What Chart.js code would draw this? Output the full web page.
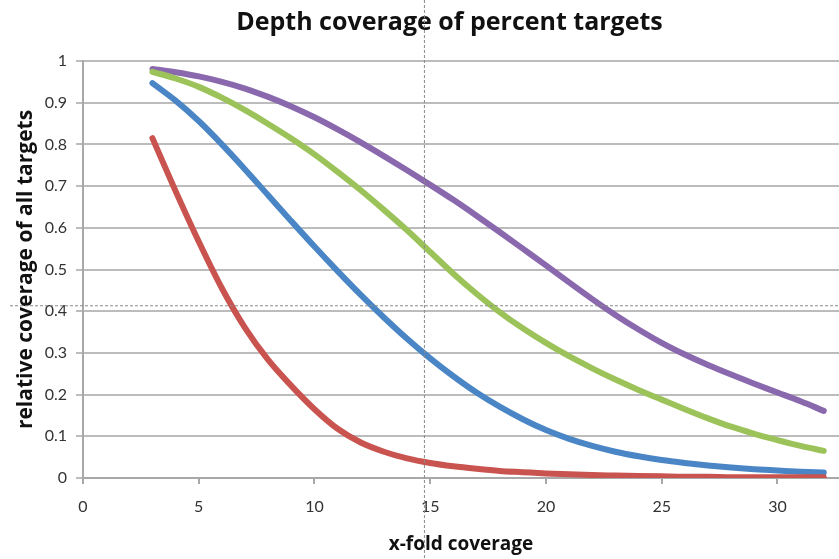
<!DOCTYPE html>
<html>
<head>
<meta charset="utf-8">
<script src="https://cdn.jsdelivr.net/npm/chart.js@4"></script>
<style>
  html, body { margin: 0; padding: 0; background: #fff; }
  #wrap { width: 839px; height: 559px; }
</style>
</head>
<body>
<div id="wrap"><canvas id="chart" width="839" height="559"></canvas></div>
<script>
/* ===== data ===== */
const xFold = [3,4,5,6,7,8,9,10,11,12,13,14,15,16,17,18,19,20,21,22,23,24,25,26,27,28,29,30,31,32];

const redSeries = [0.815,0.688,0.567,0.455,0.36,0.283,0.221,0.165,0.118,0.085,0.063,0.047,0.036,0.028,0.022,
                   0.017,0.014,0.011,0.009,0.007,0.006,0.005,0.004,0.003,0.003,0.002,0.002,0.002,0.002,0.002];
const blueSeries = [0.947,0.905,0.856,0.8,0.74,0.678,0.616,0.555,0.496,0.439,0.385,0.334,0.287,0.244,0.205,
                    0.171,0.141,0.115,0.094,0.077,0.063,0.052,0.043,0.036,0.03,0.025,0.021,0.018,0.015,0.013];
const greenSeries = [0.974,0.958,0.938,0.912,0.882,0.849,0.814,0.776,0.734,0.69,0.643,0.594,0.542,0.49,0.442,
                     0.398,0.359,0.324,0.292,0.263,0.236,0.211,0.188,0.165,0.143,0.123,0.106,0.091,0.077,0.065];
const purpleSeries = [0.981,0.973,0.963,0.95,0.934,0.914,0.891,0.865,0.836,0.805,0.772,0.738,0.703,0.667,0.629,
                      0.59,0.55,0.51,0.469,0.429,0.391,0.356,0.324,0.296,0.271,0.248,0.226,0.205,0.184,0.161];

const xTicks = [0,5,10,15,20,25,30];
const yTicks = [0,0.1,0.2,0.3,0.4,0.5,0.6,0.7,0.8,0.9,1];

// the dotted crosshair seen on the scan, in data units
const crossX = 14.75;
const crossY = 0.413;

/* ===== helpers ===== */
function pts(arr){ return arr.map((v,i)=>({ x: xFold[i], y: v })); }
function line(data, color){
  return { data: pts(data), borderColor: color, backgroundColor: color, borderWidth: 6,
           pointRadius: 0, cubicInterpolationMode: 'monotone', borderCapStyle: 'round',
           borderJoinStyle: 'round', fill: false };
}

const crosshair = {
  id: 'crosshair',
  afterDraw(chart){
    const {ctx} = chart;
    const px = chart.scales.x.getPixelForValue(crossX);
    const py = chart.scales.y.getPixelForValue(crossY);
    ctx.save();
    ctx.strokeStyle = '#8a8a8a';
    ctx.lineWidth = 1;
    ctx.setLineDash([3,2]);
    ctx.beginPath();
    ctx.moveTo(px, 0); ctx.lineTo(px, chart.height);
    ctx.moveTo(10, py); ctx.lineTo(chart.width, py);
    ctx.stroke();
    ctx.restore();
  }
};

const tickFont = { family: 'Lato', size: 16 };

new Chart(document.getElementById('chart'), {
  type: 'line',
  data: { datasets: [
    line(redSeries, '#c9544f'),
    line(blueSeries, '#4a86c5'),
    line(greenSeries, '#9cc35a'),
    line(purpleSeries, '#8a68ad')
  ]},
  options: {
    responsive: false,
    animation: false,
    // title box reaches past the right edge, as in the cropped original
    layout: { padding: { left: 0, right: -60, top: 0, bottom: 0 } },
    plugins: {
      legend: { display: false },
      tooltip: { enabled: false },
      title: {
        display: true,
        text: 'Depth coverage of percent targets',
        color: '#111',
        font: { family: 'Open Sans', size: 25, weight: 'bold' },
        padding: { top: 8, bottom: 23 }
      }
    },
    scales: {
      x: {
        type: 'linear',
        min: 0,
        max: 32.66,
        afterBuildTicks: s => { s.ticks = xTicks.map(v => ({ value: v })); },
        afterFit: s => { s.height = 81; s.paddingLeft = 0; s.paddingRight = 0; },
        ticks: { color: '#333', font: tickFont, padding: 13, maxRotation: 0 },
        grid: { drawOnChartArea: false, drawTicks: true, tickLength: 6, color: '#a8a8a8', lineWidth: 2 },
        border: { color: '#a8a8a8', width: 2 },
        title: {
          display: true, text: 'x-fold coverage', color: '#111',
          font: { family: 'Open Sans', size: 19, weight: 'bold' },
          padding: { top: 0, bottom: 3 }
        }
      },
      y: {
        min: 0,
        max: 1,
        afterBuildTicks: s => { s.ticks = yTicks.map(v => ({ value: v })); },
        afterFit: s => { s.width = 83; },
        ticks: { color: '#333', font: tickFont, padding: 9, callback: v => String(+v.toFixed(1)) },
        grid: { color: '#bcbcbc', lineWidth: 2, tickLength: 7 },
        border: { color: '#a8a8a8', width: 2 },
        title: {
          display: true, text: 'relative coverage of all targets', color: '#111',
          font: { family: 'Open Sans', size: 21, weight: 'bold' },
          padding: { top: 13, bottom: 0 }
        }
      }
    }
  },
  plugins: [crosshair]
});
</script>
</body>
</html>
